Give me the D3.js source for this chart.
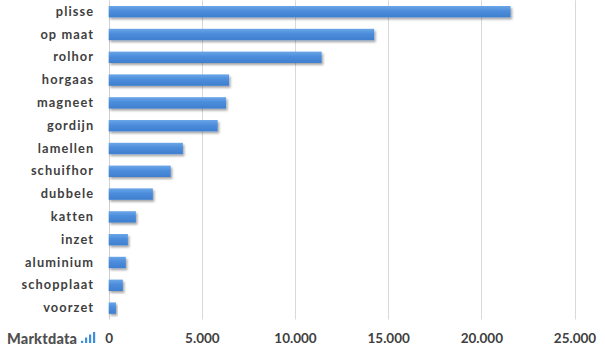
<!DOCTYPE html>
<html>
<head>
<meta charset="utf-8">
<script src="https://cdn.jsdelivr.net/npm/d3@7"></script>
<style>
  html, body { margin: 0; padding: 0; background: #fff; }
  svg { display: block; }
</style>
</head>
<body>
<svg id="chart" width="605" height="351"></svg>
<script>
const categories = ["plisse","op maat","rolhor","horgaas","magneet","gordijn","lamellen","schuifhor","dubbele","katten","inzet","aluminium","schopplaat","voorzet"];
const values = [21570, 14250, 11430, 6460, 6300, 5850, 3980, 3330, 2370, 1460, 1030, 920, 760, 390];
const tickValues = [0, 5000, 10000, 15000, 20000, 25000];
const tickLabels = ["0", "5.000", "10.000", "15.000", "20.000", "25.000"];

(function () {
const svg = d3.select("#chart");
const pLeft = 108.7, pRight = 574.5, pTop = 0.3, pBottom = 319.5;

const x = d3.scaleLinear().domain([0, 25000]).range([pLeft, pRight]);
const y = d3.scaleBand().domain(categories).range([pTop, pBottom]).paddingInner(0.5).paddingOuter(0.25);

const defs = svg.append("defs");
const grad = defs.append("linearGradient").attr("id", "barGrad").attr("x1", 0).attr("y1", 0).attr("x2", 0).attr("y2", 1);
grad.append("stop").attr("offset", "0%").attr("stop-color", "#6aa6e8");
grad.append("stop").attr("offset", "45%").attr("stop-color", "#4b8cdb");
grad.append("stop").attr("offset", "100%").attr("stop-color", "#3f7fcf");
const f = defs.append("filter").attr("id", "shadow").attr("x", "-10%").attr("y", "-50%").attr("width", "130%").attr("height", "250%");
f.append("feDropShadow").attr("dx", 1.5).attr("dy", 2).attr("stdDeviation", 1.3).attr("flood-color", "#000").attr("flood-opacity", 0.35);

// gridlines
svg.append("g").selectAll("line").data(tickValues.slice(1)).join("line")
  .attr("x1", d => Math.round(x(d)) + 0.5).attr("x2", d => Math.round(x(d)) + 0.5)
  .attr("y1", pTop).attr("y2", pBottom)
  .attr("stroke", "#d9d9d9").attr("stroke-width", 1);

// axis line at 0
svg.append("line")
  .attr("x1", Math.round(x(0)) + 0.5).attr("x2", Math.round(x(0)) + 0.5)
  .attr("y1", pTop).attr("y2", pBottom)
  .attr("stroke", "#d0d0d0").attr("stroke-width", 1);

// bars
svg.append("g").selectAll("rect").data(categories).join("rect")
  .attr("x", x(0))
  .attr("y", d => y(d))
  .attr("width", (d, i) => x(values[i]) - x(0))
  .attr("height", y.bandwidth())
  .attr("fill", "url(#barGrad)")
  .attr("filter", "url(#shadow)");

// category labels
const yAxis = d3.axisLeft(y).tickSize(0).tickPadding(14.5);
const gy = svg.append("g").attr("transform", `translate(${pLeft},0)`).call(yAxis);
gy.select(".domain").remove();
gy.selectAll("text")
  .attr("font-family", "Lato, 'Open Sans', sans-serif")
  .attr("font-weight", "bold")
  .attr("font-size", "12.8px")
  .attr("letter-spacing", "1.1px")
  .attr("fill", "#3f3f3f");

// x tick labels
const xAxis = d3.axisBottom(x).tickValues(tickValues).tickFormat((d, i) => tickLabels[i]).tickSize(0).tickPadding(14);
const gx = svg.append("g").attr("transform", `translate(0,${pBottom})`).call(xAxis);
gx.select(".domain").remove();
gx.selectAll("text")
  .attr("font-family", "Lato, 'Open Sans', sans-serif")
  .attr("font-weight", "bold")
  .attr("font-size", "13.5px")
  .attr("fill", "#404040");

// logo
const logo = svg.append("g");
logo.append("text").attr("x", 7).attr("y", 343.5)
  .attr("font-family", "Lato, 'Open Sans', sans-serif")
  .attr("font-weight", "900")
  .attr("font-size", "14.5px")
  .attr("letter-spacing", "0.2px")
  .attr("fill", "#505050")
  .text("Marktdata");
const iconX = 81;
const iconBars = [[0, 2.2], [4, 5.5], [8, 8.5], [12, 11]];
logo.selectAll("rect.icon").data(iconBars).join("rect")
  .attr("class", "icon")
  .attr("x", d => iconX + d[0])
  .attr("y", d => 343 - d[1])
  .attr("width", 2.2)
  .attr("height", d => d[1])
  .attr("fill", "#3d8fdc");
})();
</script>
</body>
</html>
